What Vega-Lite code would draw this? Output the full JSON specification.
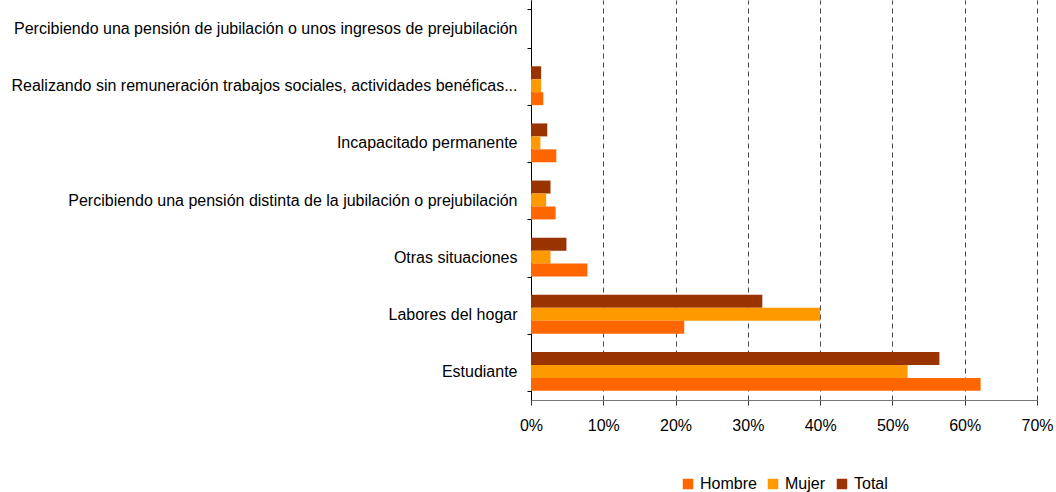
{
  "$schema": "https://vega.github.io/schema/vega-lite/v6.json",
  "width": 506,
  "height": 400,
  "autosize": {"type": "none"},
  "padding": {"left": 531, "top": 0, "right": 19, "bottom": 92},
  "background": "white",
  "config": {
    "view": {"stroke": null},
    "font": "Liberation Sans",
    "axis": {"labelFont": "Liberation Sans", "labelFontSize": 16, "labelColor": "#000"}
  },
  "data": {
    "values": [
      {"cat": "Percibiendo una pensión de jubilación o unos ingresos de prejubilación", "grupo": "Total", "v": 0},
      {"cat": "Percibiendo una pensión de jubilación o unos ingresos de prejubilación", "grupo": "Mujer", "v": 0},
      {"cat": "Percibiendo una pensión de jubilación o unos ingresos de prejubilación", "grupo": "Hombre", "v": 0},
      {"cat": "Realizando sin remuneración trabajos sociales, actividades benéficas...", "grupo": "Total", "v": 0.014},
      {"cat": "Realizando sin remuneración trabajos sociales, actividades benéficas...", "grupo": "Mujer", "v": 0.014},
      {"cat": "Realizando sin remuneración trabajos sociales, actividades benéficas...", "grupo": "Hombre", "v": 0.017},
      {"cat": "Incapacitado permanente", "grupo": "Total", "v": 0.0225},
      {"cat": "Incapacitado permanente", "grupo": "Mujer", "v": 0.013},
      {"cat": "Incapacitado permanente", "grupo": "Hombre", "v": 0.035},
      {"cat": "Percibiendo una pensión distinta de la jubilación o prejubilación", "grupo": "Total", "v": 0.027},
      {"cat": "Percibiendo una pensión distinta de la jubilación o prejubilación", "grupo": "Mujer", "v": 0.021},
      {"cat": "Percibiendo una pensión distinta de la jubilación o prejubilación", "grupo": "Hombre", "v": 0.034},
      {"cat": "Otras situaciones", "grupo": "Total", "v": 0.049},
      {"cat": "Otras situaciones", "grupo": "Mujer", "v": 0.027},
      {"cat": "Otras situaciones", "grupo": "Hombre", "v": 0.078},
      {"cat": "Labores del hogar", "grupo": "Total", "v": 0.32},
      {"cat": "Labores del hogar", "grupo": "Mujer", "v": 0.40},
      {"cat": "Labores del hogar", "grupo": "Hombre", "v": 0.212},
      {"cat": "Estudiante", "grupo": "Total", "v": 0.565},
      {"cat": "Estudiante", "grupo": "Mujer", "v": 0.521},
      {"cat": "Estudiante", "grupo": "Hombre", "v": 0.622}
    ]
  },
  "mark": {"type": "bar"},
  "encoding": {
    "y": {
      "field": "cat",
      "type": "nominal",
      "sort": null,
      "scale": {"paddingInner": 0.32, "paddingOuter": 0.16},
      "axis": {
        "title": null,
        "labelLimit": 600,
        "labelPadding": 10,
        "tickBand": "extent",
        "tickSize": 4,
        "tickColor": "#000",
        "domainColor": "#000",
        "grid": false
      }
    },
    "yOffset": {
      "field": "grupo",
      "type": "nominal",
      "sort": ["Total", "Mujer", "Hombre"],
      "scale": {"paddingInner": 0, "paddingOuter": 0}
    },
    "x": {
      "field": "v",
      "type": "quantitative",
      "scale": {"domain": [0, 0.7], "nice": false},
      "axis": {
        "title": null,
        "format": ".0%",
        "values": [0, 0.1, 0.2, 0.3, 0.4, 0.5, 0.6, 0.7],
        "labelFlush": false,
        "labelOverlap": false,
        "grid": true,
        "gridDash": [5, 4],
        "gridColor": "#444",
        "gridOpacity": 1,
        "tickColor": "#333",
        "tickSize": 5,
        "domainColor": "#777",
        "labelPadding": 12
      }
    },
    "color": {
      "field": "grupo",
      "type": "nominal",
      "scale": {"domain": ["Hombre", "Mujer", "Total"], "range": ["#FF6600", "#FF9900", "#993300"]},
      "legend": {
        "title": null,
        "orient": "none",
        "direction": "horizontal",
        "legendX": 149,
        "legendY": 476,
        "symbolType": "square",
        "symbolSize": 110,
        "symbolStrokeWidth": 0,
        "labelFontSize": 16,
        "labelFont": "Liberation Sans",
        "labelColor": "#000",
        "columnPadding": 8,
        "symbolOffset": 0,
        "labelOffset": 4,
        "padding": 0
      }
    }
  }
}
